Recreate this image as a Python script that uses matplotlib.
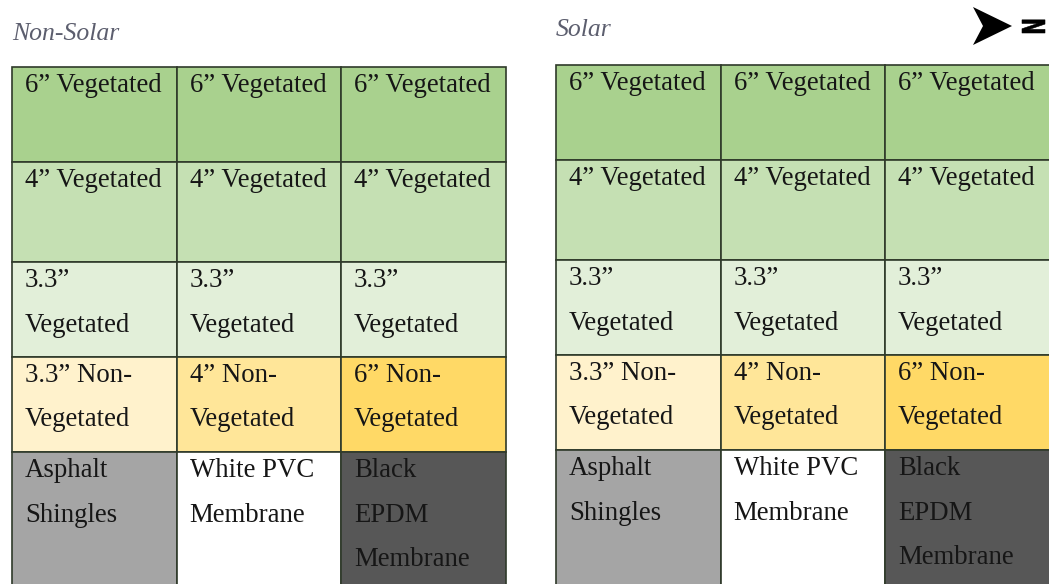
import matplotlib
matplotlib.use("Agg")
import matplotlib.pyplot as plt
from matplotlib.patches import Rectangle, Polygon, PathPatch
from matplotlib.textpath import TextPath
from matplotlib.font_manager import FontProperties
from matplotlib.path import Path
import numpy as np

# panel titles
panels = ["Non-Solar", "Solar"]

# cell contents, row by row (top to bottom), three columns
veg_depths = ["6\u201d", "4\u201d", "3.3\u201d"]
nonveg_depths = ["3.3\u201d", "4\u201d", "6\u201d"]
control_roofs = [["Asphalt", "Shingles"],
                 ["White PVC", "Membrane"],
                 ["Black", "EPDM", "Membrane"]]

# cell fill colours
row_colors = [
    ["#a9d18e"] * 3,
    ["#c5e0b3"] * 3,
    ["#e2efd9"] * 3,
    ["#fff2cc", "#ffe699", "#ffd966"],
    ["#a5a5a5", "#ffffff", "#575757"],
]

# build the grid of cell texts
cells = []
cells.append([[veg_depths[0] + " Vegetated"]] * 3)
cells.append([[veg_depths[1] + " Vegetated"]] * 3)
cells.append([[veg_depths[2], "Vegetated"]] * 3)
cells.append([[d + " Non-", "Vegetated"] for d in nonveg_depths])
cells.append(control_roofs)

# layout (pixels)
W, H = 1049, 584
panel_left = [12, 556]
panel_top = [67, 65]
title_base = [40, 36]
col_w = 164.5
row_h = [95, 100, 95, 95, 160]
pad_x, first_base, line_gap = 13, 25, 44.5

fig = plt.figure(figsize=(W / 100, H / 100), dpi=100)
ax = fig.add_axes([0, 0, 1, 1])
ax.set_xlim(0, W)
ax.set_ylim(H, 0)
ax.axis("off")

cell_font = dict(family="Liberation Serif", fontsize=19.3, color="#161616")

for p, title in enumerate(panels):
    x0, y0 = panel_left[p], panel_top[p]
    ax.text(x0, title_base[p], title, family="Liberation Serif", style="italic",
            fontsize=18.5, color="#5c5e6e", va="baseline", ha="left")
    top = y0
    for r in range(len(cells)):
        for c in range(3):
            left = x0 + c * col_w
            ax.add_patch(Rectangle((left, top), col_w, row_h[r],
                                   facecolor=row_colors[r][c],
                                   edgecolor="#2f3a2a", lw=1.2))
            for k, line in enumerate(cells[r][c]):
                ax.text(left + pad_x, top + first_base + k * line_gap, line,
                        va="baseline", ha="left", **cell_font)
        top += row_h[r]

# north arrow
ax.add_patch(Polygon([(973, 7), (1012, 26), (973, 45), (983, 26)],
                     closed=True, facecolor="black", edgecolor="none"))
tp = TextPath((0, 0), "N", size=1,
              prop=FontProperties(family="DejaVu Sans", weight="bold"))
v = tp.vertices
xmin, xmax = v[:, 0].min(), v[:, 0].max()
ymin, ymax = v[:, 1].min(), v[:, 1].max()
bx, by, bw, bh = 1022, 18, 23, 15
nv = np.column_stack([bx + (v[:, 1] - ymin) / (ymax - ymin) * bw,
                      by + (v[:, 0] - xmin) / (xmax - xmin) * bh])
ax.add_patch(PathPatch(Path(nv, tp.codes), facecolor="black",
                       edgecolor="black", lw=0.4))

fig.savefig("out.png", dpi=100)
